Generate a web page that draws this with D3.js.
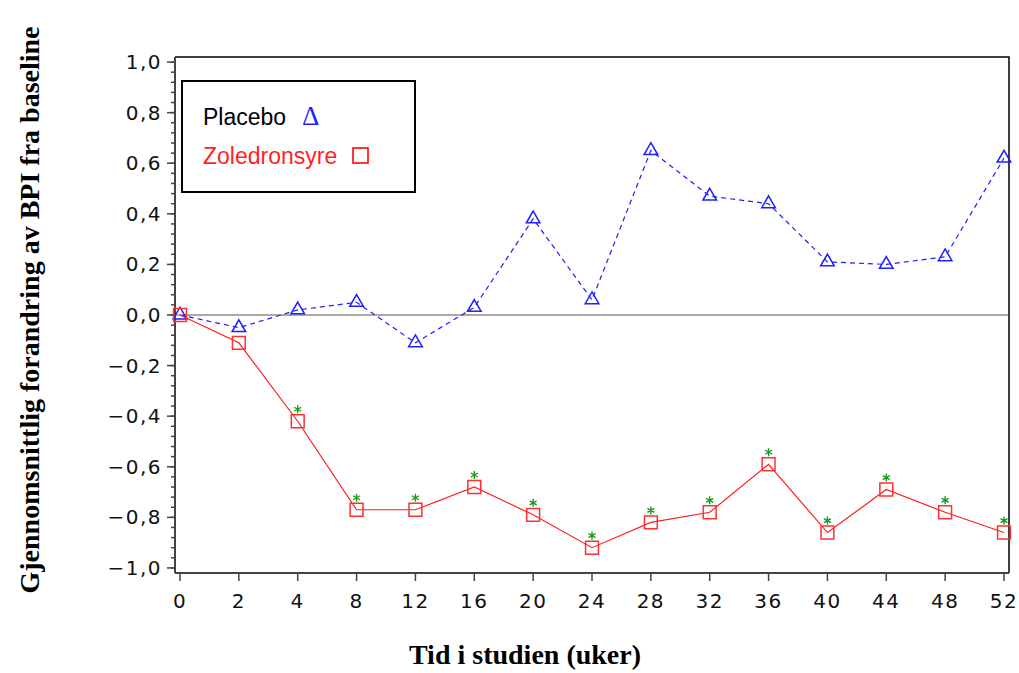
<html>
<head>
<style>
  body { margin: 0; background: #fff; }
  svg { display: block; }
</style>
</head>
<body>
<svg width="1019" height="673"></svg>
<script src="https://d3js.org/d3.v7.min.js"></script>
<script>
// weeks in the study (categorical, evenly spaced)
var weeks = [0, 2, 4, 8, 12, 16, 20, 24, 28, 32, 36, 40, 44, 48, 52];
// mean change in BPI from baseline
var placebo = [0, -0.05, 0.02, 0.05, -0.11, 0.03, 0.38, 0.06, 0.65, 0.47, 0.44, 0.21, 0.20, 0.23, 0.62];
var zoledron = [0, -0.11, -0.42, -0.77, -0.77, -0.68, -0.79, -0.92, -0.82, -0.78, -0.59, -0.86, -0.69, -0.78, -0.86];
// significance flags for zoledronic acid points
var signif = [false, false, true, true, true, true, true, true, true, true, true, true, true, true, true];
var yTicks = [-1, -0.8, -0.6, -0.4, -0.2, 0, 0.2, 0.4, 0.6, 0.8, 1];
var yTickLabels = ["\u22121,0", "\u22120,8", "\u22120,6", "\u22120,4", "\u22120,2", "0,0", "0,2", "0,4", "0,6", "0,8", "1,0"];
var yMinor = d3.range(-1, 1.0001, 0.04).map(function(v){ return Math.round(v*100)/100; });

var frame = { left: 175, right: 1009, top: 57, bottom: 573 };

var svg = d3.select("svg");

var x = d3.scalePoint()
  .domain(weeks)
  .range([frame.left + 5, frame.right - 5]);

var y = d3.scaleLinear()
  .domain([-1.02, 1.02])
  .range([frame.bottom, frame.top]);

// frame top / right
svg.append("path")
  .attr("d", "M" + frame.left + "," + frame.top + "H" + frame.right + "V" + frame.bottom)
  .attr("fill", "none")
  .attr("stroke", "#000")
  .attr("stroke-width", 1.5);

// zero reference line
svg.append("line")
  .attr("x1", frame.left).attr("x2", frame.right)
  .attr("y1", y(0)).attr("y2", y(0))
  .attr("stroke", "#555")
  .attr("stroke-width", 1);

// y axis
var yAxis = svg.append("g")
  .attr("transform", "translate(" + frame.left + ",0)");

yAxis.selectAll(".minor").data(yMinor).enter().append("line")
  .attr("x1", -4).attr("x2", 0)
  .attr("y1", function(d){ return y(d); })
  .attr("y2", function(d){ return y(d); })
  .attr("stroke", "#444").attr("stroke-width", 1.5);

yAxis.selectAll(".major").data(yTicks).enter().append("line")
  .attr("x1", -8).attr("x2", 0)
  .attr("y1", function(d){ return y(d); })
  .attr("y2", function(d){ return y(d); })
  .attr("stroke", "#444").attr("stroke-width", 1.5);

yAxis.selectAll("text").data(yTicks).enter().append("text")
  .attr("x", -13)
  .attr("y", function(d){ return y(d) + 7; })
  .attr("text-anchor", "end")
  .style("font-family", "DejaVu Sans")
  .style("font-size", "20px")
  .style("letter-spacing", "1.5px")
  .attr("fill", "#111")
  .text(function(d, i){ return yTickLabels[i]; });

yAxis.append("line")
  .attr("x1", 0).attr("x2", 0)
  .attr("y1", frame.top).attr("y2", frame.bottom)
  .attr("stroke", "#444").attr("stroke-width", 2);

// x axis
var xAxis = svg.append("g")
  .attr("transform", "translate(0," + frame.bottom + ")");

xAxis.append("line")
  .attr("x1", frame.left).attr("x2", frame.right)
  .attr("y1", 0).attr("y2", 0)
  .attr("stroke", "#444").attr("stroke-width", 2);

xAxis.selectAll(".tick").data(weeks).enter().append("line")
  .attr("x1", function(d){ return x(d); })
  .attr("x2", function(d){ return x(d); })
  .attr("y1", 0).attr("y2", 8)
  .attr("stroke", "#444").attr("stroke-width", 1.5);

xAxis.selectAll("text").data(weeks).enter().append("text")
  .attr("x", function(d){ return x(d); })
  .attr("y", 35)
  .attr("text-anchor", "middle")
  .style("font-family", "DejaVu Sans")
  .style("font-size", "20px")
  .style("letter-spacing", "1.5px")
  .attr("fill", "#111")
  .text(function(d){ return d; });

// axis titles
svg.append("text")
  .attr("x", 525).attr("y", 664)
  .attr("text-anchor", "middle")
  .style("font-family", "Liberation Serif")
  .style("font-weight", "bold")
  .style("font-size", "28px")
  .text("Tid i studien (uker)");

svg.append("text")
  .attr("transform", "translate(39,310) rotate(-90)")
  .attr("text-anchor", "middle")
  .style("font-family", "Liberation Serif")
  .style("font-weight", "bold")
  .style("font-size", "28px")
  .text("Gjennomsnittlig forandring av BPI fra baseline");

// lines
var line = d3.line()
  .x(function(d, i){ return x(weeks[i]); })
  .y(function(d){ return y(d); });

svg.append("path")
  .datum(placebo)
  .attr("d", line)
  .attr("fill", "none")
  .attr("stroke", "#1f1fff")
  .attr("stroke-width", 1.2)
  .attr("stroke-dasharray", "5,4");

svg.append("path")
  .datum(zoledron)
  .attr("d", line)
  .attr("fill", "none")
  .attr("stroke", "#ff1f1f")
  .attr("stroke-width", 1.2);

// markers
var tri = d3.symbol().type(d3.symbolTriangle).size(80);
var sq = d3.symbol().type(d3.symbolSquare).size(165);

svg.selectAll(".tri").data(placebo).enter().append("path")
  .attr("d", tri)
  .attr("transform", function(d, i){ return "translate(" + x(weeks[i]) + "," + y(d) + ")"; })
  .attr("fill", "none")
  .attr("stroke", "#1f1fff")
  .attr("stroke-width", 1.5);

svg.selectAll(".sq").data(zoledron).enter().append("path")
  .attr("d", sq)
  .attr("transform", function(d, i){ return "translate(" + x(weeks[i]) + "," + y(d) + ")"; })
  .attr("fill", "none")
  .attr("stroke", "#ff3030")
  .attr("stroke-width", 1.5);

// significance asterisks
var star = "M0,-4V4M-3.5,-2L3.5,2M-3.5,2L3.5,-2";
svg.selectAll(".star").data(zoledron.filter(function(d, i){ return signif[i]; }).map(function(d, j){
    var idx = signif.indexOf(true) + j;
    return { w: weeks[idx], v: d };
  })).enter().append("path")
  .attr("d", star)
  .attr("transform", function(d){ return "translate(" + x(d.w) + "," + (y(d.v) - 12) + ")"; })
  .attr("fill", "none")
  .attr("stroke", "#1a9a1a")
  .attr("stroke-width", 1.4);

// legend
var lg = svg.append("g");
lg.append("rect")
  .attr("x", 182).attr("y", 81)
  .attr("width", 233).attr("height", 111)
  .attr("fill", "#fff")
  .attr("stroke", "#000")
  .attr("stroke-width", 2);

lg.append("text")
  .attr("x", 203).attr("y", 125)
  .style("font-family", "Liberation Sans")
  .style("font-size", "23px")
  .attr("fill", "#000")
  .text("Placebo");
lg.append("text")
  .attr("x", 302).attr("y", 125)
  .style("font-family", "Liberation Serif")
  .style("font-size", "27px")
  .attr("fill", "#1f1fff")
  .text("\u0394");

lg.append("text")
  .attr("x", 203).attr("y", 164)
  .style("font-family", "Liberation Sans")
  .style("font-size", "23px")
  .attr("fill", "#ff1f1f")
  .text("Zoledronsyre");
lg.append("rect")
  .attr("x", 353).attr("y", 148)
  .attr("width", 15).attr("height", 15)
  .attr("fill", "none")
  .attr("stroke", "#ff1f1f")
  .attr("stroke-width", 1.8);
</script>
</body>
</html>
